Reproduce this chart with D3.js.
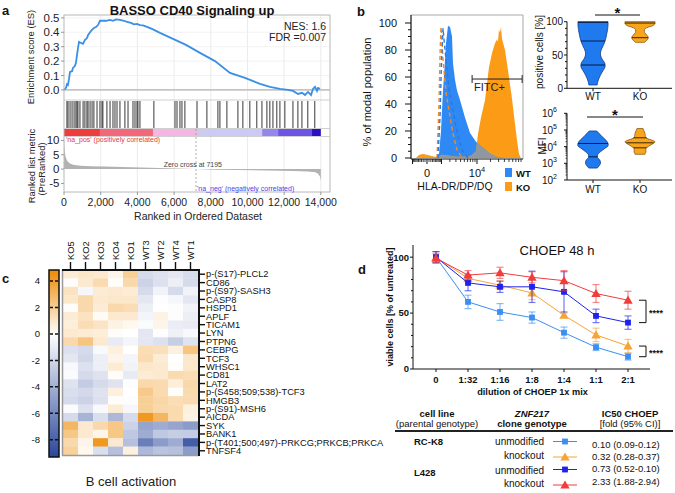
<!DOCTYPE html>
<html>
<head>
<meta charset="utf-8">
<script src="https://cdn.jsdelivr.net/npm/d3@7/dist/d3.min.js"></script>
<style>
html,body{margin:0;padding:0;background:#fff;}
svg{display:block;font-family:"Liberation Sans",Arial,Helvetica,sans-serif;}
</style>
</head>
<body>
<svg id="chart" width="675" height="493"></svg>
<script>
// ================= DATA =================
// ---- panel a : GSEA
const esRank = [0,109,163,218,273,327,436,490,600,654,709,763,818,927,1036,1145,1254,1308,1417,1526,1635,1744,1853,1962,2126,2289,2507,2671,2834,3053,3270,3434,3652,3816,3979,4143,4306,4524,4797,5233,5942,6650,7413,8231,9049,9866,10684,11229,11774,12210,12483,12756,12974,13137,13301,13464,13573,13682,13791,13846,13955];
const esValue = [0,0.014,0.04,0.035,0.076,0.125,0.13,0.153,0.167,0.19,0.243,0.29,0.333,0.326,0.32,0.347,0.36,0.38,0.40,0.417,0.43,0.437,0.45,0.48,0.48,0.48,0.486,0.48,0.49,0.486,0.48,0.472,0.465,0.455,0.458,0.45,0.448,0.437,0.424,0.396,0.354,0.3125,0.257,0.2,0.118,0.083,0.042,0.021,0.007,0,-0.007,-0.028,-0.02,-0.035,-0.014,-0.035,0.007,0.021,-0.007,0.014,0.007];
const hitRanks = [160,220,330,440,550,650,710,760,870,1040,1140,1250,1310,1420,1530,1630,1800,1960,2070,2120,2340,2510,2670,2780,2890,3050,3320,3490,3760,3870,3980,4030,4140,4900,6050,6160,6320,6430,6590,7250,7790,8390,8500,8880,9480,9750,10130,10510,10790,11060,11220,11390,11600,11770,12040,12480,12750,12970,13290,13670];
const metricRank = [0,30,80,160,300,500,900,1500,2200,3200,4200,5200,6200,7195,8200,9500,11000,12500,13300,13700,13850,13950,14000];
const metricValue = [10.5,7,4.5,3,2,1.5,1.2,1.0,0.9,0.7,0.55,0.4,0.2,0,-0.2,-0.35,-0.5,-0.65,-0.85,-1.1,-1.6,-2.6,-4];
const bandStart = [0,1960,4850,7250,10800,11670,13520];
const bandEnd   = [1960,4850,7250,10800,11670,13520,14000];
const bandColor = ['#ee3d3d','#f2687a','#f6b6e2','#cbcaf4','#9386ec','#6d54e4','#2c10c4'];
const zeroCross = 7195;
const esTicks = [0,0.1,0.2,0.3,0.4,0.5];
const metricTicks = [-5,0,5,10];
const rankTicks = [0,2000,4000,6000,8000,10000,12000,14000];

// ---- panel b : flow histogram
const histWTx = [615,778,958,1054,1154,1371,1488,1738,2014,2320,2482,2830,3217,3870,5190,6870,9490,13680,19540,27700,41200];
const histWTy = [0,3,20,35,50,72,85,98,97,90,70,58,50,43,30,18.5,12,8,3.5,1,0];
const histKOx = [-700,-450,-200,0,250,500,800,1100,1500,2200,3200,5000,7000,8100,9490,10560,12340,15160,16780,18530,21700,25100,27700,29100,30500,32200,33800,35600,41200,47700,58400,67200,74100,81500,89600];
const histKOy = [0,2.5,3,2.5,1.5,1,1.5,2.5,2,1.5,1,1,1.5,3,5,18,30,43,55,67,78,85,88,86,95,93,97,88,80,65,43,25,13,3,0];
const dashWTx = [695,866,1000,1154,1260,1488,1900,2482,3300,4370,6140];
const dashWTy = [0,30,70,96,88,73,50,35,18,6,0];
const dashKOx = [615,778,880,958,1054,1154,1500,1872,2482,3217,4370];
const dashKOy = [0,40,80,97,88,73,48,35,18,6,0];
const histYTicks = [0,20,40,60,80,100];
const gate = {lo:7700, hi:95000, level:58.5, label:'FITC+'};

// ---- panel b : violins
const groups = ['WT','KO'];
const pctWTv = [100,95,88,80,72,64,56,50,44,38,32,26,20,14,8,5];
const pctWTw = [1.0,1.0,0.97,0.9,0.82,0.68,0.52,0.5,0.6,0.78,0.8,0.65,0.5,0.38,0.3,0.28];
const pctWTq = [99,71,35];
const pctKOv = [100,97,94,91,88,84,80,76,72,69];
const pctKOw = [1.0,1.0,0.85,0.45,0.3,0.3,0.45,0.55,0.45,0.3];
const pctKOq = [98,76];
const mfiWTv = [87000,63000,40000,25000,16000,11000,8000,5000,3200,2200,1600,1000,700,520];
const mfiWTw = [0.25,0.4,0.6,0.85,1.0,1.0,0.8,0.5,0.3,0.3,0.45,0.5,0.4,0.28];
const mfiWTq = [15500,2450];
const mfiKOv = [123000,62000,35000,19500,14000,7800,4900,3500];
const mfiKOw = [0.2,0.33,0.4,1.0,0.8,0.4,0.4,0.33];
const mfiKOq = [34000,17000,8500];

// ---- panel c : heatmap
const heatCols = ['KO5','KO2','KO3','KO4','KO1','WT3','WT2','WT4','WT1'];
const heatRows = ['p-(S17)-PLCL2','CD86','p-(S97)-SASH3','CASP8','HSPD1','APLF','TICAM1','LYN','PTPN6','CEBPG','TCF3','WHSC1','CD81','LAT2','p-(S458;509;538)-TCF3','HMGB3','p-(S91)-MSH6','AICDA','SYK','BANK1','p-(T401;500;497)-PRKCG;PRKCB;PRKCA','TNFSF4'];
const heatValues = [
 [0.8,1.0,0.9,0.4,2.0,-1.8,-1.5,-1.2,-1.7],
 [0.1,0.9,1.5,0.1,1.6,-2.2,-1.5,-0.8,-1.8],
 [1.2,-0.4,0.8,0.9,0.8,-1.8,-0.6,-1.8,-0.6],
 [1.0,1.6,0.9,1.0,1.0,-1.2,-0.1,-0.4,-1.2],
 [0.1,1.6,0.8,1.6,1.4,-0.8,0.0,-0.1,-0.6],
 [0.8,1.2,0.2,0.9,0.9,-0.5,0.5,-0.1,-0.8],
 [0.7,1.4,1.1,0.5,0.3,-0.2,0.4,-0.9,-1.0],
 [0.9,0.8,0.7,0.1,0.0,-1.2,-0.1,-0.7,-0.3],
 [1.6,2.4,0.9,-1.0,-0.5,-1.2,-1.5,-2.5,-1.4],
 [-1.5,-1.8,-0.3,0.6,0.0,1.4,1.3,0.6,2.4],
 [-1.2,-2.0,-0.8,0.4,-0.5,1.5,0.8,0.0,1.0],
 [-0.3,-1.5,-0.8,0.8,-0.6,1.0,0.9,0.1,1.0],
 [-0.2,-1.8,-1.4,0.1,-1.0,0.8,0.9,1.5,1.4],
 [-1.4,-2.6,-1.8,-1.4,-0.1,1.6,1.5,0.7,1.6],
 [-1.6,-1.9,-1.4,0.6,0.0,2.2,1.5,0.1,1.5],
 [-1.8,-2.2,-1.5,0.1,-0.1,2.0,1.7,1.4,1.5],
 [-0.2,-1.5,-0.3,0.8,-0.4,2.0,1.6,1.5,0.6],
 [-1.8,-3.8,-1.6,-3.6,-1.8,4.2,3.0,1.5,0.5],
 [3.0,0.9,1.6,2.3,-2.2,-4.6,-4.2,-4.6,-5.0],
 [2.3,0.9,0.4,2.3,-2.8,-4.2,-2.8,-2.5,-2.6],
 [1.6,0.4,4.2,0.9,-3.2,-6.5,-5.0,-4.2,-8.2],
 [1.9,0.3,-1.6,-3.2,0.6,-3.6,-3.0,-3.2,-5.0]
];
const cbarTicks = [4,2,0,-2,-4,-6,-8];
const cbarDomain = [-9.3,4.83];

// ---- panel d : viability
const doses = ['0','1:32','1:16','1:8','1:4','1:1','2:1'];
const rck8Unmod = [100,60,51,46,32.5,19.5,11];
const rck8UnmodErr = [5,6,7.5,5,5,3,3];
const rck8KO = [100,81,75,68,48,30.5,20.5];
const rck8KOErr = [5,3,4,6,2,6,6];
const l428Unmod = [100,77,73.5,73.5,69,47.5,41.5];
const l428UnmodErr = [5,7,5,14,18,6,6];
const l428KO = [99,84,86,82,79,67.5,61.5];
const l428KOErr = [4,4,5,5,9,8,8];
const viaTicks = [0,50,100];
const ic50Text = ['0.10 (0.09-0.12)','0.32 (0.28-0.37)','0.73 (0.52-0.10)','2.33 (1.88-2.94)'];

// ================= DRAW =================
const svg = d3.select('#chart');
function txt(g, x, y, s, o = {}) {
  const t = g.append('text').attr('x', x).attr('y', y).text(s)
    .attr('font-size', o.size || 10).attr('fill', o.fill || '#111');
  if (o.weight) t.attr('font-weight', o.weight);
  if (o.anchor) t.attr('text-anchor', o.anchor);
  if (o.style) t.attr('font-style', o.style);
  if (o.rotate) t.attr('transform', `rotate(${o.rotate},${x},${y})`);
  if (o.dy) t.attr('dy', o.dy);
  return t;
}

// ---------- panel a ----------
const gA = svg.append('g');
const xA = d3.scaleLinear().domain([0, 14500]).range([64, 330]);
const yES = d3.scaleLinear().domain([-0.07, 0.52]).range([100, 15]);
const yM = d3.scaleLinear().domain([-8, 11.2]).range([192, 137]);

gA.append('g').selectAll('line').data(rankTicks.slice(1)).join('line')
  .attr('x1', d => xA(d)).attr('x2', d => xA(d)).attr('y1', 15).attr('y2', 192)
  .attr('stroke', '#e6e6e6').attr('stroke-width', 0.8);
gA.append('g').selectAll('line').data(esTicks.slice(1)).join('line')
  .attr('x1', 64).attr('x2', 330).attr('y1', d => yES(d)).attr('y2', d => yES(d))
  .attr('stroke', '#efefef').attr('stroke-width', 0.8);
gA.append('line').attr('x1', 64).attr('x2', 330).attr('y1', yES(0)).attr('y2', yES(0))
  .attr('stroke', '#c4c4c4').attr('stroke-width', 1.6);
gA.append('path').datum(d3.zip(esRank, esValue))
  .attr('d', d3.line().x(d => xA(d[0])).y(d => yES(d[1])))
  .attr('fill', 'none').attr('stroke', '#3a8fe8').attr('stroke-width', 1.8);
gA.append('g').selectAll('line').data(hitRanks).join('line')
  .attr('x1', d => xA(d)).attr('x2', d => xA(d)).attr('y1', 101).attr('y2', 128)
  .attr('stroke', '#222').attr('stroke-width', 0.9);
gA.append('g').selectAll('rect').data(d3.range(bandStart.length)).join('rect')
  .attr('x', i => xA(bandStart[i])).attr('width', i => xA(bandEnd[i]) - xA(bandStart[i]))
  .attr('y', 129).attr('height', 7).attr('fill', i => bandColor[i]);
gA.append('path').datum(d3.zip(metricRank, metricValue))
  .attr('d', d3.area().x(d => xA(d[0])).y0(yM(0)).y1(d => yM(d[1])))
  .attr('fill', '#b2b2b2');
gA.append('line').attr('x1', xA(zeroCross)).attr('x2', xA(zeroCross)).attr('y1', 129).attr('y2', 192)
  .attr('stroke', '#9a9a9a').attr('stroke-width', 0.8).attr('stroke-dasharray', '2,2');
gA.append('rect').attr('x', 64).attr('y', 15).attr('width', 266).attr('height', 177)
  .attr('fill', 'none').attr('stroke', '#b8b8b8').attr('stroke-width', 1);
[100, 128.5, 136.5].forEach(y => gA.append('line').attr('x1', 64).attr('x2', 330)
  .attr('y1', y).attr('y2', y).attr('stroke', '#c4c4c4').attr('stroke-width', 0.8));
esTicks.forEach(v => gA.append('line').attr('x1', 61).attr('x2', 64).attr('y1', yES(v)).attr('y2', yES(v)).attr('stroke', '#999'));
metricTicks.forEach(v => gA.append('line').attr('x1', 61).attr('x2', 64).attr('y1', yM(v)).attr('y2', yM(v)).attr('stroke', '#999'));
rankTicks.forEach(v => {
  gA.append('line').attr('x1', xA(v)).attr('x2', xA(v)).attr('y1', 192).attr('y2', 195).attr('stroke', '#999');
  txt(gA, xA(v), 206, d3.format(',')(v), {size: 10.5, anchor: 'middle', fill: '#222'});
});
const fmt1 = d3.format('.1f');
esTicks.forEach(v => txt(gA, 59.5, yES(v), fmt1(v), {size: 11.5, anchor: 'end', dy: '0.35em', fill: '#222'}));
metricTicks.forEach(v => txt(gA, 59.5, yM(v), String(v), {size: 11.5, anchor: 'end', dy: '0.35em', fill: '#222'}));
txt(gA, 34, 57, 'Enrichment score (ES)', {size: 9.4, anchor: 'middle', rotate: -90, fill: '#222'});
txt(gA, 35, 166, 'Ranked list metric', {size: 9.4, anchor: 'middle', rotate: -90, fill: '#222'});
txt(gA, 44.5, 169, '(PreRanked)', {size: 9.4, anchor: 'middle', rotate: -90, fill: '#222'});
txt(gA, 2, 15, 'a', {size: 13, weight: 'bold'});
txt(gA, 192, 14.5, 'BASSO CD40 Signaling up', {size: 13, weight: 'bold', anchor: 'middle'});
txt(gA, 326, 30, 'NES: 1.6', {size: 10.5, anchor: 'end', fill: '#222'});
txt(gA, 326, 40.5, 'FDR =0.007', {size: 10.5, anchor: 'end', fill: '#222'});
txt(gA, 198, 220, 'Ranked in Ordered Dataset', {size: 10.5, anchor: 'middle', fill: '#222'});
txt(gA, 66, 141.5, "'na_pos' (positively correlated)", {size: 7, fill: '#e8383a'});
txt(gA, 222, 166.5, 'Zero cross at 7195', {size: 7, fill: '#444', anchor: 'end'});
txt(gA, 197, 191, "'na_neg' (negatively correlated)", {size: 7, fill: '#4646e8'});

// ---------- panel b : histogram ----------
const gB = svg.append('g');
const hx = d3.scaleSymlog().constant(1000).domain([-1154, 99000]).range([411, 523]);
const hy = d3.scaleLinear().domain([0, 100]).range([158, 23]);
const histArea = d3.area().x(d => hx(d[0])).y0(hy(0)).y1(d => hy(d[1]));
const histLine = d3.line().x(d => hx(d[0])).y(d => hy(d[1]));
const wtPts = d3.zip(histWTx, histWTy), koPts = d3.zip(histKOx, histKOy);

gB.append('clipPath').attr('id', 'wtclip').append('path').attr('d', histArea(wtPts));
gB.append('path').attr('d', histArea(wtPts)).attr('fill', '#2f89f4');
gB.append('path').attr('d', histArea(koPts)).attr('fill', '#fb9b16');
gB.append('path').attr('d', histArea(koPts)).attr('fill', '#8e98a3').attr('clip-path', 'url(#wtclip)');
gB.append('path').attr('d', histLine(d3.zip(dashKOx, dashKOy))).attr('fill', 'none')
  .attr('stroke', '#f08a20').attr('stroke-width', 1.4).attr('stroke-dasharray', '4,3');
gB.append('path').attr('d', histLine(d3.zip(dashWTx, dashWTy))).attr('fill', 'none')
  .attr('stroke', '#2a78e0').attr('stroke-width', 1.4).attr('stroke-dasharray', '4,3');

gB.append('path').attr('d', 'M411,15H523V159').attr('fill', 'none').attr('stroke', '#a8a8a8').attr('stroke-width', 1);
gB.append('line').attr('x1', 411).attr('x2', 411).attr('y1', 15).attr('y2', 159).attr('stroke', '#111').attr('stroke-width', 1.2);
gB.append('line').attr('x1', 411).attr('x2', 523).attr('y1', 159).attr('y2', 159).attr('stroke', '#111').attr('stroke-width', 1.2);
histYTicks.forEach(v => {
  gB.append('line').attr('x1', 405).attr('x2', 411).attr('y1', hy(v)).attr('y2', hy(v)).attr('stroke', '#111');
  txt(gB, 397, hy(v), String(v), {size: 11, anchor: 'end', dy: '0.35em'});
});
gB.append('g').selectAll('line').data(d3.range(0, 101, 5).filter(v => v % 20)).join('line')
  .attr('x1', 408).attr('x2', 411).attr('y1', d => hy(d)).attr('y2', d => hy(d)).attr('stroke', '#111');
const majorX = [-1000, 0, 1000, 10000];
const minorX = [].concat(d3.range(1, 10).map(k => -k * 100), d3.range(1, 10).map(k => k * 100),
  d3.range(2, 10).map(k => k * 1000), d3.range(2, 10).map(k => k * 10000));
gB.append('g').selectAll('line').data(majorX).join('line').attr('x1', d => hx(d)).attr('x2', d => hx(d))
  .attr('y1', 159).attr('y2', 164).attr('stroke', '#111').attr('stroke-width', 1);
gB.append('g').selectAll('line').data(minorX).join('line').attr('x1', d => hx(d)).attr('x2', d => hx(d))
  .attr('y1', 159).attr('y2', 162).attr('stroke', '#111').attr('stroke-width', 0.8);
txt(gB, hx(0), 177, '0', {size: 11, anchor: 'middle'});
const t104 = txt(gB, hx(10000), 177, '10', {size: 11, anchor: 'middle'});
t104.append('tspan').attr('dy', -5).attr('font-size', 7.5).text('4');
const gyy = hy(gate.level);
gB.append('line').attr('x1', hx(gate.lo)).attr('x2', hx(gate.hi)).attr('y1', gyy).attr('y2', gyy).attr('stroke', '#222').attr('stroke-width', 1);
[gate.lo, gate.hi].forEach(v => gB.append('line').attr('x1', hx(v)).attr('x2', hx(v)).attr('y1', gyy - 4).attr('y2', gyy + 4).attr('stroke', '#222'));
txt(gB, hx(gate.lo) + 2, gyy + 12, gate.label, {size: 11, fill: '#222'});
gB.append('rect').attr('x', 505).attr('y', 168).attr('width', 7).attr('height', 9).attr('fill', '#2f89f4');
txt(gB, 516, 176.5, 'WT', {size: 9.5, weight: 'bold'});
gB.append('rect').attr('x', 505).attr('y', 182).attr('width', 7).attr('height', 9).attr('fill', '#fb9b16');
txt(gB, 516, 190.5, 'KO', {size: 9.5, weight: 'bold'});
txt(gB, 357, 16, 'b', {size: 13, weight: 'bold'});
txt(gB, 371, 92, '% of modal population', {size: 11, anchor: 'middle', rotate: -90});
txt(gB, 455, 190, 'HLA-DR/DP/DQ', {size: 10.5, anchor: 'middle'});

// ---------- panel b : violins ----------
const vx = d3.scalePoint().domain(groups).range([593, 640]);
const vw = d3.scaleLinear().domain([0, 1]).range([0, 15]);
const vyP = d3.scaleLinear().domain([0, 100]).range([88.3, 21.7]);
const vyM = d3.scaleLog().domain([100, 1e6]).range([180, 113.3]);
const vcol = {WT: {fill: '#1f7af0', stroke: '#123d86', q: '#0a1a40'}, KO: {fill: '#f8a51e', stroke: '#8a5a12', q: '#3a2600'}};
function violin(g, yScale, grp, vals, ws, qs) {
  const cxp = vx(grp), pts = d3.zip(vals, ws);
  const area = d3.area().y(d => yScale(d[0])).x0(d => cxp - vw(d[1])).x1(d => cxp + vw(d[1])).curve(d3.curveCatmullRom);
  g.append('path').attr('d', area(pts)).attr('fill', vcol[grp].fill).attr('stroke', vcol[grp].stroke).attr('stroke-width', 0.8);
  const wAt = v => {
    for (let i = 0; i < vals.length - 1; i++) {
      const a = vals[i], b = vals[i + 1];
      if ((v <= a && v >= b) || (v >= a && v <= b)) {
        const t = (v - a) / (b - a || 1); return ws[i] + t * (ws[i + 1] - ws[i]);
      }
    }
    return ws[0];
  };
  qs.forEach(q => g.append('line').attr('x1', cxp - vw(wAt(q))).attr('x2', cxp + vw(wAt(q)))
    .attr('y1', yScale(q)).attr('y2', yScale(q)).attr('stroke', vcol[grp].q).attr('stroke-width', 1));
}
const gV = svg.append('g');
violin(gV, vyP, 'WT', pctWTv, pctWTw, pctWTq);
violin(gV, vyP, 'KO', pctKOv, pctKOw, pctKOq);
violin(gV, vyM, 'WT', mfiWTv, mfiWTw, mfiWTq);
violin(gV, vyM, 'KO', mfiKOv, mfiKOw, mfiKOq);
gV.append('line').attr('x1', 567).attr('x2', 567).attr('y1', vyP(100)).attr('y2', vyP(0)).attr('stroke', '#111');
[0, 50, 100].forEach(v => {
  gV.append('line').attr('x1', 564).attr('x2', 567).attr('y1', vyP(v)).attr('y2', vyP(v)).attr('stroke', '#111');
  txt(gV, 563, vyP(v), String(v), {size: 10, anchor: 'end', dy: '0.35em'});
});
gV.append('g').selectAll('line').data(d3.range(10, 100, 10).filter(v => v !== 50)).join('line')
  .attr('x1', 565).attr('x2', 567).attr('y1', d => vyP(d)).attr('y2', d => vyP(d)).attr('stroke', '#111');
gV.append('line').attr('x1', 567).attr('x2', 672).attr('y1', vyP(0)).attr('y2', vyP(0)).attr('stroke', '#111');
groups.forEach(g => {
  gV.append('line').attr('x1', vx(g)).attr('x2', vx(g)).attr('y1', vyP(0)).attr('y2', vyP(0) + 3).attr('stroke', '#111');
  txt(gV, vx(g), 100, g, {size: 10, anchor: 'middle'});
  gV.append('line').attr('x1', vx(g)).attr('x2', vx(g)).attr('y1', 180).attr('y2', 183).attr('stroke', '#111');
  txt(gV, vx(g), 192.5, g, {size: 10, anchor: 'middle'});
});
gV.append('line').attr('x1', 567).attr('x2', 567).attr('y1', vyM(1e6)).attr('y2', vyM(100)).attr('stroke', '#111');
gV.append('line').attr('x1', 567).attr('x2', 672).attr('y1', 180).attr('y2', 180).attr('stroke', '#111');
[2, 3, 4, 5, 6].forEach(e => {
  const y = vyM(Math.pow(10, e));
  gV.append('line').attr('x1', 564).attr('x2', 567).attr('y1', y).attr('y2', y).attr('stroke', '#111');
  const t = txt(gV, 557, y + 4, '10', {size: 10, anchor: 'end'});
  t.append('tspan').attr('dy', -5).attr('font-size', 7).text(String(e));
  if (e < 6) d3.range(2, 10).forEach(k => {
    const ym = vyM(k * Math.pow(10, e));
    gV.append('line').attr('x1', 565.5).attr('x2', 567).attr('y1', ym).attr('y2', ym).attr('stroke', '#111').attr('stroke-width', 0.7);
  });
});
txt(gV, 543, 52, 'positive cells [%]', {size: 10, anchor: 'middle', rotate: -90});
txt(gV, 546, 146, 'MFI', {size: 10, anchor: 'middle', rotate: -90});
gV.append('line').attr('x1', 595).attr('x2', 640).attr('y1', 15).attr('y2', 15).attr('stroke', '#111');
txt(gV, 617.5, 17.5, '*', {size: 15, weight: 'bold', anchor: 'middle'});
gV.append('line').attr('x1', 587).attr('x2', 643).attr('y1', 117).attr('y2', 117).attr('stroke', '#111');
txt(gV, 615, 119.5, '*', {size: 15, weight: 'bold', anchor: 'middle'});

// ---------- panel c : heatmap ----------
const gC = svg.append('g');
const cx = d3.scaleBand().domain(heatCols).range([63, 198]);
const cy = d3.scaleBand().domain(heatRows).range([270, 455]);
const heatColor = d3.scaleLinear().domain([-9.3, 0, 4.83]).range(['#2a479b', '#ffffff', '#ee8a00']);
const cells = [];
heatValues.forEach((row, i) => row.forEach((v, j) => cells.push({r: heatRows[i], c: heatCols[j], v})));
gC.append('g').selectAll('rect').data(cells).join('rect')
  .attr('x', d => cx(d.c)).attr('y', d => cy(d.r))
  .attr('width', cx.bandwidth() + 0.3).attr('height', cy.bandwidth() + 0.3)
  .attr('fill', d => heatColor(d.v));
gC.append('line').attr('x1', 62.5).attr('x2', 62.5).attr('y1', 270).attr('y2', 455.5).attr('stroke', '#9a9a9a').attr('stroke-width', 1.5);
gC.append('line').attr('x1', 62).attr('x2', 199).attr('y1', 455.5).attr('y2', 455.5).attr('stroke', '#9a9a9a').attr('stroke-width', 1.5);
gC.append('path').attr('d', 'M62,270H199V456').attr('fill', 'none').attr('stroke', '#111').attr('stroke-width', 2);
heatCols.forEach(c => {
  const x = cx(c) + cx.bandwidth() / 2;
  gC.append('line').attr('x1', x).attr('x2', x).attr('y1', 262).attr('y2', 270).attr('stroke', '#111').attr('stroke-width', 1.4);
  txt(gC, x + 3.4, 260, c, {size: 9.3, rotate: -90});
});
heatRows.forEach(r => {
  const y = cy(r) + cy.bandwidth() / 2;
  gC.append('line').attr('x1', 199).attr('x2', 205).attr('y1', y).attr('y2', y).attr('stroke', '#111').attr('stroke-width', 1.4);
  txt(gC, 206, y, r, {size: 9.3, dy: '0.35em'});
});
const cbY = d3.scaleLinear().domain(cbarDomain).range([457, 270]);
const grad = gC.append('defs').append('linearGradient').attr('id', 'cbgrad')
  .attr('x1', 0).attr('x2', 0).attr('y1', 1).attr('y2', 0);
d3.range(0, 1.0001, 0.05).forEach(t => {
  const v = cbarDomain[0] + t * (cbarDomain[1] - cbarDomain[0]);
  grad.append('stop').attr('offset', t).attr('stop-color', heatColor(v));
});
gC.append('rect').attr('x', 49).attr('y', 270).attr('width', 10).attr('height', 187)
  .attr('fill', 'url(#cbgrad)').attr('stroke', '#111').attr('stroke-width', 1.5);
cbarTicks.forEach(v => {
  const y = cbY(v);
  gC.append('line').attr('x1', 50).attr('x2', 58).attr('y1', y).attr('y2', y)
    .attr('stroke', '#111').attr('stroke-width', 1.5).attr('stroke-dasharray', '3,2');
  txt(gC, 40, y, String(v), {size: 9.5, anchor: 'end', dy: '0.35em'});
});
txt(gC, 2, 283, 'c', {size: 13, weight: 'bold'});
txt(gC, 131, 486, 'B cell activation', {size: 13, anchor: 'middle', fill: '#222'});

// ---------- panel d : viability ----------
const gD = svg.append('g');
const dx = d3.scalePoint().domain(doses).range([436, 628]);
const dy = d3.scaleLinear().domain([0, 110]).range([369, 246]);
const series = [
  {vals: rck8Unmod, err: rck8UnmodErr, color: '#3b8ff2', sym: d3.symbolSquare},
  {vals: rck8KO, err: rck8KOErr, color: '#f7a435', sym: d3.symbolTriangle},
  {vals: l428Unmod, err: l428UnmodErr, color: '#1f22ee', sym: d3.symbolSquare},
  {vals: l428KO, err: l428KOErr, color: '#f23c3c', sym: d3.symbolTriangle}
];
gD.append('line').attr('x1', 413).attr('x2', 413).attr('y1', 245).attr('y2', 369).attr('stroke', '#111');
viaTicks.forEach(v => {
  gD.append('line').attr('x1', 410).attr('x2', 413).attr('y1', dy(v)).attr('y2', dy(v)).attr('stroke', '#111');
  txt(gD, 409, dy(v), String(v), {size: 9.5, weight: 'bold', anchor: 'end', dy: '0.35em'});
});
gD.append('g').selectAll('line').data(d3.range(10, 110, 10).filter(v => v !== 50 && v !== 100)).join('line')
  .attr('x1', 411).attr('x2', 413).attr('y1', d => dy(d)).attr('y2', d => dy(d)).attr('stroke', '#111');
gD.append('line').attr('x1', 413).attr('x2', 650).attr('y1', 369).attr('y2', 369).attr('stroke', '#111');
doses.forEach(d => {
  gD.append('line').attr('x1', dx(d)).attr('x2', dx(d)).attr('y1', 369).attr('y2', 372).attr('stroke', '#111');
  txt(gD, dx(d), 383, d, {size: 9.5, weight: 'bold', anchor: 'middle'});
});
series.forEach(s => {
  const pts = d3.zip(doses, s.vals, s.err);
  const eg = gD.append('g').attr('stroke', s.color).attr('stroke-opacity', 0.6).attr('stroke-width', 1.2);
  pts.forEach(p => {
    const x = dx(p[0]);
    eg.append('line').attr('x1', x).attr('x2', x).attr('y1', dy(p[1] - p[2])).attr('y2', dy(p[1] + p[2]));
    [p[1] - p[2], p[1] + p[2]].forEach(v => eg.append('line').attr('x1', x - 3.5).attr('x2', x + 3.5).attr('y1', dy(v)).attr('y2', dy(v)));
  });
  gD.append('path').attr('d', d3.line().x(p => dx(p[0])).y(p => dy(p[1]))(pts))
    .attr('fill', 'none').attr('stroke', s.color).attr('stroke-width', 1);
  gD.append('g').selectAll('path').data(pts).join('path')
    .attr('transform', p => `translate(${dx(p[0])},${dy(p[1]) + (s.sym === d3.symbolTriangle ? 0.8 : 0)})`)
    .attr('d', d3.symbol(s.sym, s.sym === d3.symbolTriangle ? 38 : 34)())
    .attr('fill', s.color);
});
function bracket(vTop, vBot) {
  const y1 = dy(vTop), y2 = dy(vBot);
  gD.append('path').attr('d', `M639,${y1}H646V${y2}H639`).attr('fill', 'none').attr('stroke', '#111').attr('stroke-width', 1);
  txt(gD, 649, (y1 + y2) / 2 + 4.5, '****', {size: 9, weight: 'bold'});
}
bracket(l428KO[6], l428Unmod[6]);
bracket(rck8KO[6], rck8Unmod[6]);
txt(gD, 358, 274, 'd', {size: 13, weight: 'bold'});
txt(gD, 557, 255, 'CHOEP 48 h', {size: 13, anchor: 'middle'});
txt(gD, 393, 307, 'viable cells [% of untreated]', {size: 9, weight: 'bold', anchor: 'middle', rotate: -90});
txt(gD, 532.5, 395, 'dilution of CHOEP 1x mix', {size: 9.2, weight: 'bold', anchor: 'middle'});
txt(gD, 437, 417, 'cell line', {size: 9.5, weight: 'bold', anchor: 'middle'});
txt(gD, 437, 427, '(parental genotype)', {size: 9.5, anchor: 'middle'});
txt(gD, 532, 417, 'ZNF217', {size: 9.5, weight: 'bold', style: 'italic', anchor: 'middle'});
txt(gD, 532, 427, 'clone genotype', {size: 9.5, weight: 'bold', anchor: 'middle'});
txt(gD, 630, 417, 'IC50 CHOEP', {size: 9.5, weight: 'bold', anchor: 'middle'});
txt(gD, 630, 427, '[fold (95% CI)]', {size: 9.5, anchor: 'middle'});
gD.append('line').attr('x1', 395).attr('x2', 673).attr('y1', 431).attr('y2', 431).attr('stroke', '#222').attr('stroke-width', 2);
txt(gD, 414, 445, 'RC-K8', {size: 9.5, weight: 'bold'});
txt(gD, 414, 476, 'L428', {size: 9.5, weight: 'bold'});
const rowLabel = ['unmodified', 'knockout', 'unmodified', 'knockout'];
const rowBase = [445, 459, 474, 487];
const markY = [441.5, 457, 469.5, 485];
const valBase = [448, 459.5, 472, 485];
series.forEach((s, i) => {
  txt(gD, 544, rowBase[i], rowLabel[i], {size: 10, anchor: 'end'});
  gD.append('line').attr('x1', 553).attr('x2', 577).attr('y1', markY[i]).attr('y2', markY[i]).attr('stroke', s.color).attr('stroke-width', 1);
  gD.append('path').attr('transform', `translate(565,${markY[i] + (s.sym === d3.symbolTriangle ? 0.8 : 0)})`)
    .attr('d', d3.symbol(s.sym, s.sym === d3.symbolTriangle ? 38 : 34)()).attr('fill', s.color);
  txt(gD, 592, valBase[i], ic50Text[i], {size: 9.5});
});
</script>
</body>
</html>
